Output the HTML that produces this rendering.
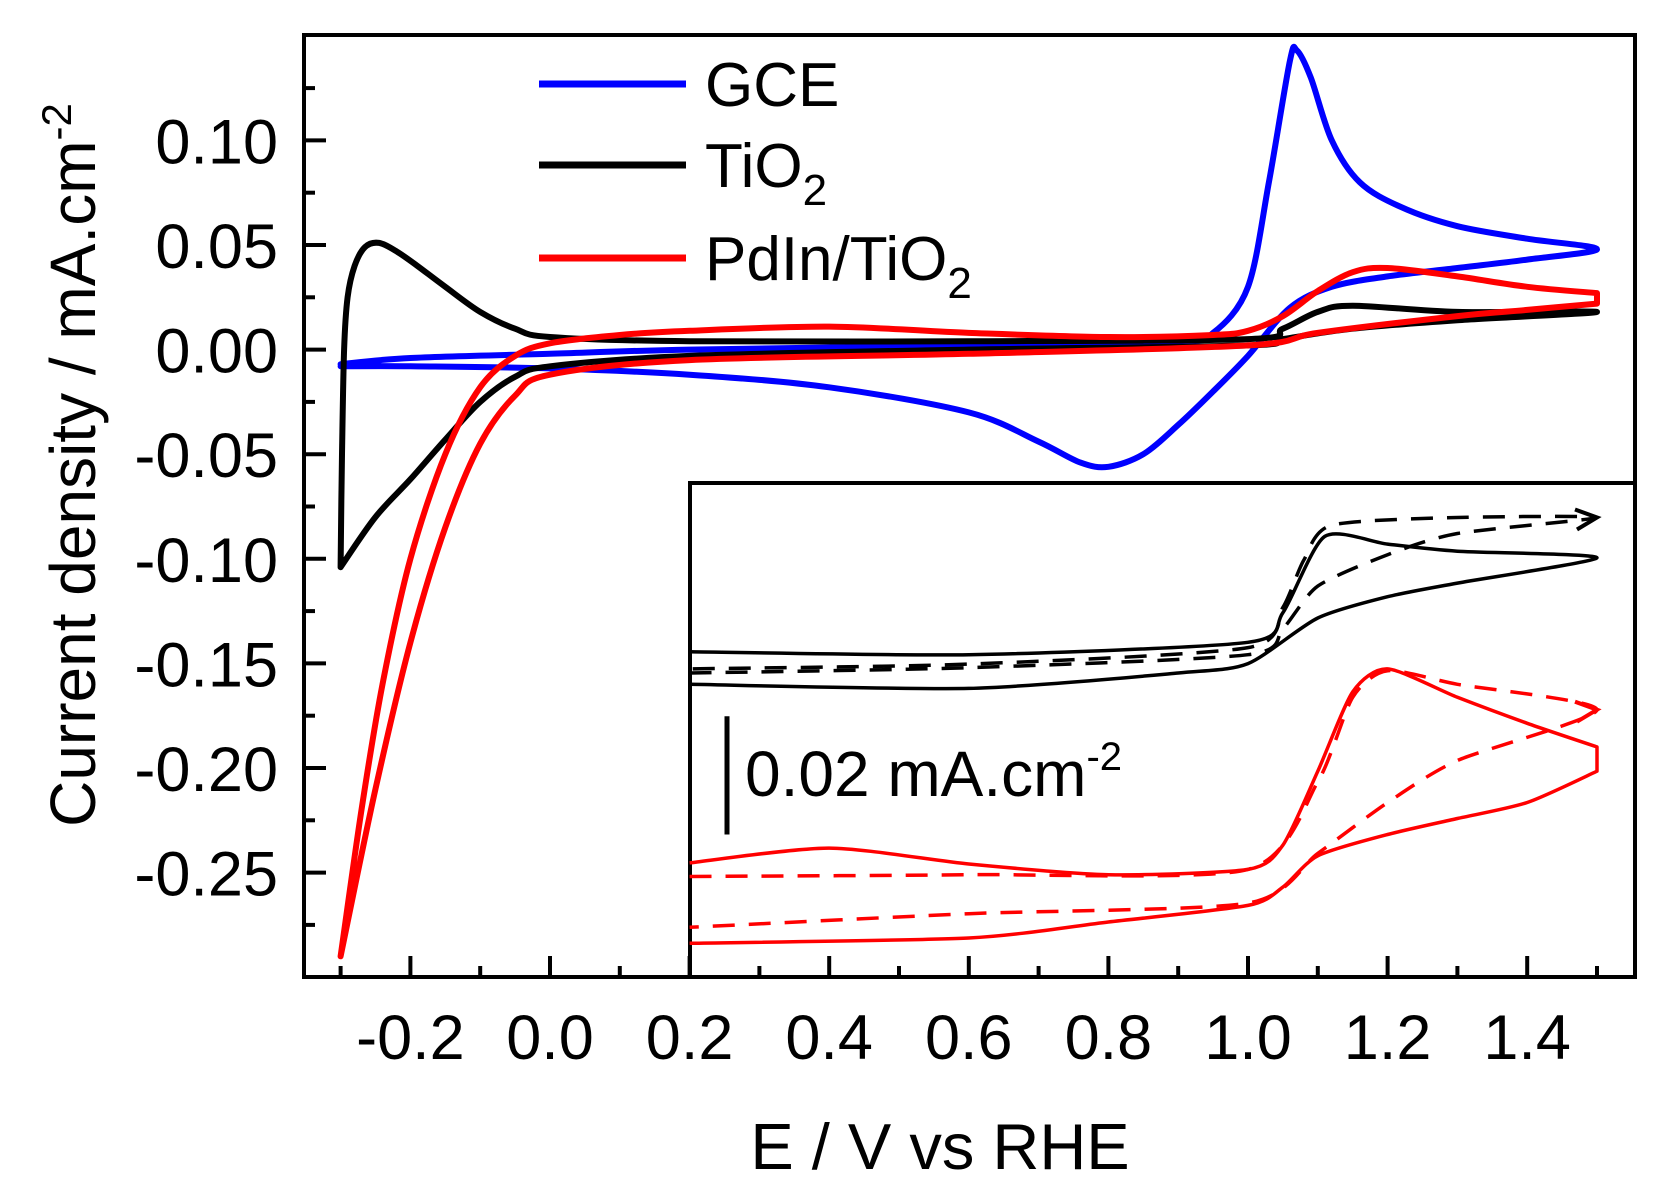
<!DOCTYPE html>
<html><head><meta charset="utf-8"><style>
html,body{margin:0;padding:0;background:#fff;}
svg{display:block;}
text{font-family:"Liberation Sans",Arial,sans-serif;fill:#000;}
</style></head><body>
<svg id="chart" width="1656" height="1197" viewBox="0 0 1656 1197" xmlns="http://www.w3.org/2000/svg">
<rect x="0" y="0" width="1656" height="1197" fill="#fff"/>
<g id="curves"></g>
<g id="inset"></g>
<g id="axes"></g>
</svg>
<script>
// ---- main chart data (E in V, j in mA/cm2) ----
const xTickLabels = ["-0.2","0.0","0.2","0.4","0.6","0.8","1.0","1.2","1.4"];
const xTickValues = [-0.2,0,0.2,0.4,0.6,0.8,1.0,1.2,1.4];
const yTickLabels = ["0.10","0.05","0.00","-0.05","-0.10","-0.15","-0.20","-0.25"];
const yTickValues = [0.10,0.05,0,-0.05,-0.10,-0.15,-0.20,-0.25];
const gceE = [-0.3,-0.2,0,0.2,0.6,0.9,0.95,1.0,1.03,1.06,1.07,1.09,1.12,1.16,1.22,1.3,1.4,1.5,1.4,1.3,1.2,1.12,1.06,1.0,0.95,0.9,0.85,0.8,0.76,0.7,0.6,0.4,0.2,0,-0.2,-0.3];
const gceJ = [-0.007,-0.004,-0.002,0,0.002,0.004,0.008,0.03,0.08,0.138,0.143,0.13,0.1,0.08,0.068,0.059,0.053,0.048,0.043,0.039,0.035,0.03,0.02,-0.003,-0.02,-0.036,-0.05,-0.056,-0.054,-0.044,-0.03,-0.018,-0.012,-0.009,-0.008,-0.008];
const tioE = [-0.3,-0.298,-0.295,-0.29,-0.28,-0.265,-0.245,-0.22,-0.19,-0.15,-0.1,-0.05,0,0.2,0.6,1.0,1.05,1.1,1.15,1.3,1.5,1.3,1.15,1.05,1.0,0.6,0.2,0,-0.05,-0.1,-0.15,-0.2,-0.25,-0.3];
const tioJ = [-0.104,-0.05,0.0,0.025,0.04,0.049,0.051,0.047,0.04,0.03,0.018,0.01,0.006,0.004,0.004,0.005,0.01,0.018,0.021,0.018,0.018,0.014,0.01,0.005,0.002,0,-0.003,-0.008,-0.013,-0.025,-0.043,-0.062,-0.08,-0.104];
const pdE = [-0.3,-0.27,-0.24,-0.2,-0.15,-0.1,-0.05,0,0.1,0.2,0.4,0.6,0.8,0.95,1.0,1.05,1.1,1.15,1.2,1.3,1.4,1.5,1.5,1.4,1.3,1.1,1.0,0.6,0.2,0,-0.05,-0.1,-0.15,-0.2,-0.25,-0.3];
const pdJ = [-0.29,-0.22,-0.16,-0.1,-0.05,-0.018,-0.003,0.003,0.007,0.009,0.011,0.008,0.006,0.007,0.009,0.016,0.028,0.037,0.039,0.035,0.03,0.027,0.022,0.019,0.016,0.008,0.002,-0.002,-0.005,-0.012,-0.022,-0.045,-0.085,-0.14,-0.21,-0.29];
// ---- inset data (E in V, j in µA/cm2 with arbitrary offset) ----
const inBlkSolidE = [0.2,0.6,1.0,1.05,1.11,1.2,1.3,1.5,1.3,1.2,1.1,1.0,0.9,0.6,0.2];
const inBlkSolidJ = [55,54.5,56.6,61.6,74.5,73.2,72,70.9,66.6,64.3,60.7,53,51.4,48.8,49.5];
const inBlkDashE = [0.2,0.6,1.0,1.05,1.1,1.2,1.3,1.5,1.3,1.12,1.08,1.05,1.0,0.6,0.2];
const inBlkDashJ = [51.4,52.3,54.5,58.9,66.1,71.4,75,77.7,77.7,76.4,70.5,62.5,55.7,52.9,52.1];
const inRedSolidE = [0.2,0.4,0.6,0.8,1.0,1.05,1.1,1.15,1.2,1.3,1.4,1.5,1.5,1.4,1.3,1.2,1.1,1.05,1.0,0.8,0.6,0.2];
const inRedSolidJ = [19.3,21.8,19.1,17.3,18.2,22.3,34.8,48.2,52.1,47.3,42.9,38.9,34.8,29.5,26.8,24.1,20.5,15.2,12.1,9.3,6.6,5.7];
const inRedDashE = [0.2,0.6,1.0,1.1,1.15,1.2,1.3,1.5,1.3,1.2,1.1,1.0,0.6,0.2];
const inRedDashJ = [17,17.3,18.2,33,47.3,51.8,49.5,45.2,36.6,29.5,20.9,12.5,10.7,8.4];
const scaleBarJ = [24.1,44.1];

const NS="http://www.w3.org/2000/svg";
function X(v){return 550+698*v;}
function Y(v){return 349.6-2092*v;}
function IY(v){return 977-5.914*v;}
function mk(tag,attrs,parent){const e=document.createElementNS(NS,tag);for(const k in attrs)e.setAttribute(k,attrs[k]);parent.appendChild(e);return e;}
function smooth(pts,t){
  let d="M"+pts[0][0].toFixed(1)+","+pts[0][1].toFixed(1);
  const n=pts.length;
  for(let i=0;i<n-1;i++){
    const p1=pts[i],p2=pts[i+1];
    if(Math.abs(p1[0]-p2[0])<0.01){d+="L"+p2[0].toFixed(1)+","+p2[1].toFixed(1);continue;}
    let p0=pts[Math.max(0,i-1)],p3=pts[Math.min(n-1,i+2)];
    if(Math.abs(p0[0]-p1[0])<0.01)p0=p1;
    if(Math.abs(p3[0]-p2[0])<0.01)p3=p2;
    const c1=[p1[0]+(p2[0]-p0[0])*t,p1[1]+(p2[1]-p0[1])*t];
    const c2=[p2[0]-(p3[0]-p1[0])*t,p2[1]-(p3[1]-p1[1])*t];
    d+="C"+c1[0].toFixed(1)+","+c1[1].toFixed(1)+" "+c2[0].toFixed(1)+","+c2[1].toFixed(1)+" "+p2[0].toFixed(1)+","+p2[1].toFixed(1);
  }
  return d;
}
const curves=document.getElementById("curves");
function drawMain(E,J,color,name){
  const pts=E.map((e,i)=>[X(e),Y(J[i])]);
  const p=mk("path",{d:smooth(pts,0.16),fill:"none",stroke:color,"stroke-width":6,"stroke-linejoin":"round","stroke-linecap":"round"},curves);
  
  
}
drawMain(gceE,gceJ,"#0000ff","gce-curve");
drawMain(tioE,tioJ,"#000000","tio2-curve");
drawMain(pdE,pdJ,"#ff0000","pdin-tio2-curve");

// inset
const inset=document.getElementById("inset");
mk("rect",{x:690,y:483,width:945,height:494,fill:"#fff",stroke:"#000","stroke-width":4},inset);
function drawInset(E,J,color,dashed,name){
  const pts=E.map((e,i)=>[X(e),IY(J[i])]);
  const a={d:smooth(pts,0.12),fill:"none",stroke:color,"stroke-width":3.5,"stroke-linejoin":"round"};
  if(dashed)a["stroke-dasharray"]="22 14";
  const p=mk("path",a,inset);
  
  
}
drawInset(inBlkSolidE,inBlkSolidJ,"#000",false,"inset-tio2-solid");
drawInset(inBlkDashE,inBlkDashJ,"#000",true,"inset-tio2-dashed");
drawInset(inRedSolidE,inRedSolidJ,"#ff0000",false,"inset-pdin-solid");
drawInset(inRedDashE,inRedDashJ,"#ff0000",true,"inset-pdin-dashed");
function arrow(e,j,color,name){
  const x=X(e),y=IY(j);
  const p=mk("path",{d:`M${x-22},${y-8} L${x},${y} L${x-20},${y+12}`,fill:"none",stroke:color,"stroke-width":4},inset);
  
  
}
arrow(1.5,77.7,"#000","inset-tio2-arrow");
arrow(1.5,45.2,"#ff0000","inset-pdin-arrow");
const sb=mk("line",{x1:727,x2:727,y1:IY(scaleBarJ[1]),y2:IY(scaleBarJ[0]),stroke:"#000","stroke-width":5},inset);


const sbt=mk("text",{x:745,y:796,"font-size":64},inset);


sbt.innerHTML='0.02 mA.cm<tspan dy="-26" font-size="40">-2</tspan>';

// axes
const axes=document.getElementById("axes");
const fr=mk("rect",{x:304,y:35,width:1331,height:942,fill:"none",stroke:"#000","stroke-width":4},axes);


for(let k=-3;k<=15;k++){
  const v=k/10, major=(k%2===0);
  mk("line",{x1:X(v),x2:X(v),y1:977,y2:977-(major?21:11),stroke:"#000","stroke-width":4},axes);
}
for(let k=-11;k<=5;k++){
  const v=k*0.025, major=(k%2===0);
  mk("line",{x1:304,x2:304+(major?22:11),y1:Y(v),y2:Y(v),stroke:"#000","stroke-width":4},axes);
}
xTickLabels.forEach((l,i)=>{
  const t=mk("text",{x:X(xTickValues[i]),y:1059,"font-size":63,"text-anchor":"middle"},axes);
  t.textContent=l;
  
  
});
yTickLabels.forEach((l,i)=>{
  const t=mk("text",{x:278,y:Y(yTickValues[i])+23,"font-size":63,"text-anchor":"end"},axes);
  t.textContent=l;
  
  
});
const xt=mk("text",{x:940,y:1169,"font-size":65,"text-anchor":"middle"},axes);
xt.textContent="E / V vs RHE";


const yt=mk("text",{x:0,y:0,"font-size":64,"text-anchor":"middle",transform:"translate(95,465) rotate(-90)"},axes);
yt.innerHTML='Current density / mA.cm<tspan dy="-24" font-size="42">-2</tspan>';



// legend
const legNames=["GCE","TiO","PdIn/TiO"];
const legColors=["#0000ff","#000000","#ff0000"];
const legY=[84,165,258];
legNames.forEach((n,i)=>{
  const g=mk("g",{},axes);
  
  
  mk("line",{x1:539,x2:686,y1:legY[i],y2:legY[i],stroke:legColors[i],"stroke-width":7},g);
  const t=mk("text",{x:705,y:legY[i]+22,"font-size":62},g);
  t.innerHTML=n+(i>0?'<tspan dy="18" font-size="44">2</tspan>':'');
});
</script>
</body></html>
